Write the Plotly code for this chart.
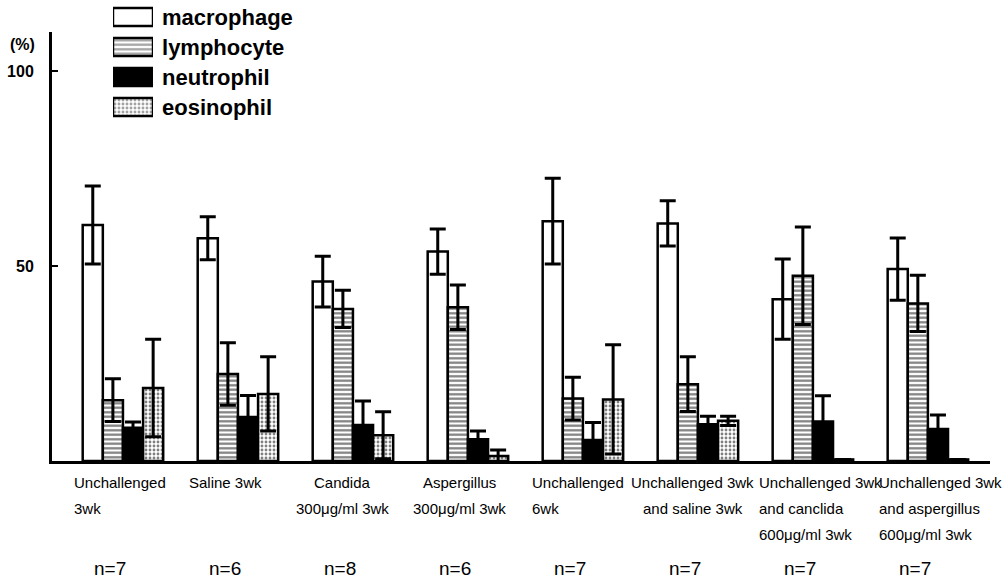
import plotly.graph_objects as go

# ---------------- data ----------------
groups = [
    "Unchallenged<br>3wk",
    "Saline 3wk",
    "Candida<br>300μg/ml 3wk",
    "Aspergillus<br>300μg/ml 3wk",
    "Unchallenged<br>6wk",
    "Unchallenged 3wk<br>and saline 3wk",
    "Unchallenged 3wk<br>and canclida<br>600μg/ml 3wk",
    "Unchallenged 3wk<br>and aspergillus<br>600μg/ml 3wk",
]
n_labels = ["n=7", "n=6", "n=8", "n=6", "n=7", "n=7", "n=7", "n=7"]
series = ["macrophage", "lymphocyte", "neutrophil", "eosinophil"]

macrophage = [60.5, 57.1, 46.0, 53.7, 61.5, 60.9, 41.5, 49.2]
macrophage_err = [10.0, 5.5, 6.5, 5.8, 11.0, 5.8, 10.3, 8.0]
lymphocyte = [15.6, 22.3, 39.0, 39.4, 16.0, 19.7, 47.5, 40.4]
lymphocyte_err = [5.5, 8.0, 4.8, 5.7, 5.5, 7.0, 12.5, 7.2]
neutrophil = [8.5, 11.3, 9.2, 5.6, 5.4, 9.4, 10.1, 8.2]
neutrophil_err = [1.5, 5.5, 6.2, 2.1, 4.5, 2.1, 6.6, 3.6]
eosinophil = [18.7, 17.2, 6.6, 1.3, 15.8, 10.3, 0.4, 0.4]
eosinophil_err = [12.5, 9.5, 6.0, 1.5, 14.0, 1.2, None, None]

y_ticks = [50, 100]
y_unit = "(%)"

# ---------------- styles ----------------
FONT = "Liberation Sans, Arial, sans-serif"
styles = {
    "macrophage": dict(color="white", shape="", size=4, solidity=0.5),
    "lymphocyte": dict(color="white", shape="-", size=4.5, solidity=0.5),
    "neutrophil": dict(color="black", shape="", size=4, solidity=0.5),
    "eosinophil": dict(color="white", shape=".", size=4, solidity=0.4),
}
values = {"macrophage": (macrophage, macrophage_err),
          "lymphocyte": (lymphocyte, lymphocyte_err),
          "neutrophil": (neutrophil, neutrophil_err),
          "eosinophil": (eosinophil, eosinophil_err)}

x_idx = list(range(len(groups)))

fig = go.Figure()
for s in series:
    vals, errs = values[s]
    st = styles[s]
    fig.add_trace(go.Bar(
        x=x_idx, y=vals, name=s, showlegend=False,
        marker=dict(color=st["color"], line=dict(color="black", width=2.5),
                    pattern=dict(shape=st["shape"], fgcolor="black", bgcolor="white",
                                 size=st["size"], solidity=st["solidity"])),
        error_y=dict(type="data", array=errs, visible=True, color="black",
                     thickness=3, width=8),
        xaxis="x", yaxis="y",
    ))

# legend drawn as a small horizontal bar panel
fig.add_trace(go.Bar(
    orientation="h", y=series, x=[1] * len(series), base=0, width=0.6,
    showlegend=False, hoverinfo="skip",
    marker=dict(color=[styles[s]["color"] for s in series],
                line=dict(color="black", width=2.5),
                pattern=dict(shape=[styles[s]["shape"] for s in series],
                             fgcolor="black", bgcolor="white",
                             size=[styles[s]["size"] for s in series],
                             solidity=[styles[s]["solidity"] for s in series])),
    xaxis="x2", yaxis="y2",
))

# x-axis label placement (anchor, pixel shift from group centre)
label_pos = [("left", -51), ("left", -51), ("center", -10), ("center", -8),
             ("left", -53), ("center", -5), ("left", -56), ("left", -51)]
line_shifts = [-21, -47, -73]

annotations = []
for i, (lab, (anc, xs)) in enumerate(zip(groups, label_pos)):
    for j, line in enumerate(lab.split("<br>")):
        annotations.append(dict(
            x=i, xref="x", y=0, yref="paper", text=line, showarrow=False,
            xanchor=anc, yanchor="middle", xshift=xs, yshift=line_shifts[j],
            font=dict(family=FONT, size=15, color="black")))
for i, nl in enumerate(n_labels):
    annotations.append(dict(
        x=i, xref="x", y=0, yref="paper", text=nl, showarrow=False,
        xanchor="center", yanchor="middle", xshift=-13, yshift=-107,
        font=dict(family=FONT, size=19, color="black")))
annotations.append(dict(
    x=-0.031, xref="paper", y=106.7, yref="y", text=y_unit, showarrow=False,
    xanchor="center", yanchor="middle",
    font=dict(family=FONT, size=16, color="black", weight="bold")))

fig.update_layout(
    width=1006, height=579,
    margin=dict(l=52, r=16, t=2, b=118, pad=0),
    paper_bgcolor="white", plot_bgcolor="white",
    barmode="group", bargap=0.3, bargroupgap=0,
    font=dict(family=FONT, color="black"),
    xaxis=dict(range=[-0.617, 7.54], showline=True, linewidth=3, linecolor="black",
               showticklabels=False, ticks="", showgrid=False, zeroline=False,
               domain=[0, 1]),
    yaxis=dict(domain=[0, 429 / 459], range=[0, 110], tickvals=y_ticks,
               ticktext=[str(t) for t in y_ticks], ticks="inside", ticklen=6,
               tickwidth=2, tickcolor="black", showline=True, linewidth=3,
               linecolor="black", showgrid=False, zeroline=False,
               ticklabelstandoff=12,
               tickfont=dict(family=FONT, size=16, color="black", weight="bold")),
    xaxis2=dict(domain=[0.065, 0.1077], anchor="y2", range=[0, 1], visible=False),
    yaxis2=dict(domain=[0.7386, 1.0], anchor="x2", type="category",
                autorange="reversed", side="right", showline=False, showgrid=False,
                zeroline=False, ticks="", ticklabelstandoff=8,
                tickfont=dict(family=FONT, size=22, color="black", weight="bold")),
    annotations=annotations,
)

fig.write_html("out.html", config={"displayModeBar": False},
               post_script="document.body.style.margin='0';document.body.style.padding='0';")
